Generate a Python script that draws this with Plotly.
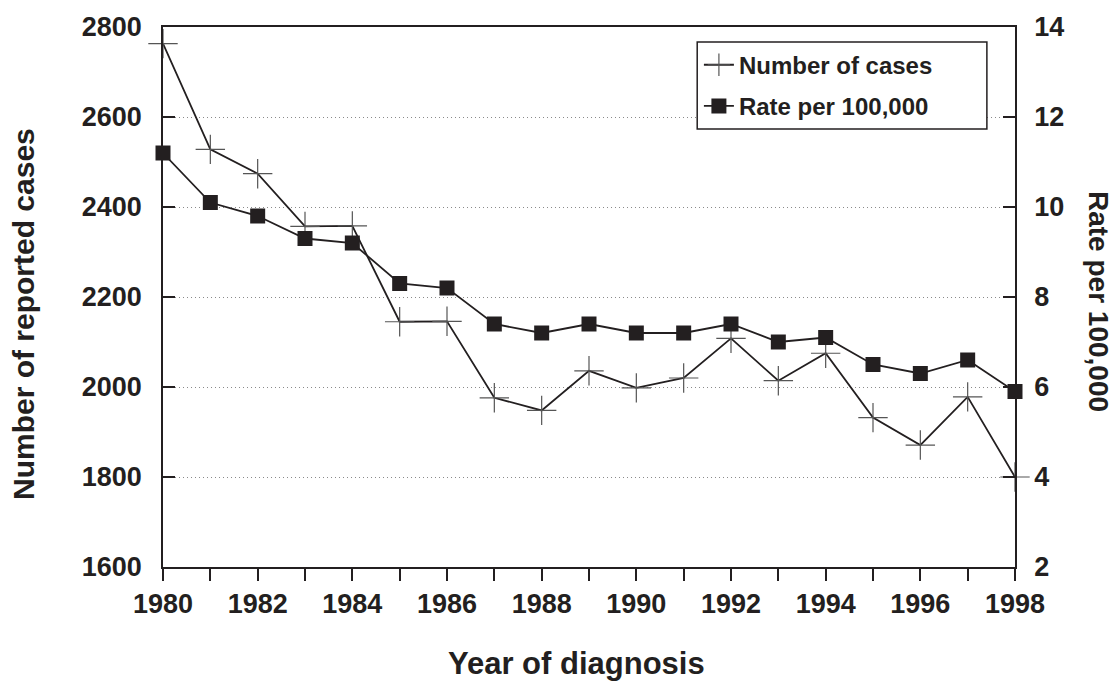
import plotly.graph_objects as go

# ── Data ──────────────────────────────────────────────────────────────────────
YEARS = list(range(1980, 1999))
CASES = [2763, 2528, 2474, 2357, 2358, 2145, 2146, 1976, 1948, 2036,
         1998, 2020, 2108, 2014, 2075, 1932, 1871, 1978, 1800]
RATE = [11.2, 10.1, 9.8, 9.3, 9.2, 8.3, 8.2, 7.4, 7.2, 7.4,
        7.2, 7.2, 7.4, 7.0, 7.1, 6.5, 6.3, 6.6, 5.9]
X_TICK_TEXT = [str(y) if y % 2 == 0 else "" for y in YEARS]
Y_TICKS = [1600, 1800, 2000, 2200, 2400, 2600, 2800]
Y2_TICKS = [2, 4, 6, 8, 10, 12, 14]

# ── Style ─────────────────────────────────────────────────────────────────────
INK = "#231f20"
GRID = "#8a8a8a"
FONT = "Liberation Sans, Arial, sans-serif"
TICKFONT = dict(family=FONT, size=27, color=INK, weight="bold")

fig = go.Figure()

fig.add_trace(go.Scatter(
    x=YEARS, y=CASES, name="Number of cases", legendgroup="a",
    mode="lines+markers",
    line=dict(color=INK, width=1.8),
    marker=dict(symbol="cross-thin", size=21, color="#555555",
                line=dict(color="#555555", width=1.2)),
    cliponaxis=False,
))

fig.add_trace(go.Scatter(
    x=YEARS, y=RATE, name="Rate per 100,000", yaxis="y2", legendgroup="b",
    mode="lines+markers",
    line=dict(color=INK, width=1.8),
    marker=dict(symbol="square", size=15, color=INK),
    cliponaxis=False,
))

fig.update_layout(
    width=1117, height=681,
    paper_bgcolor="white", plot_bgcolor="white",
    margin=dict(l=163, r=102, t=19, b=114),
    font=dict(family=FONT, color=INK, size=22),
    showlegend=True,
    legend=dict(
        x=0.629, y=0.971, xanchor="left", yanchor="top",
        bgcolor="rgba(0,0,0,0)", borderwidth=0,
        font=dict(family=FONT, size=24, color=INK, weight="bold"),
        itemwidth=30, tracegroupgap=7, traceorder="grouped",
    ),
    # legend frame, wider than the entries as in the original
    shapes=[dict(type="rect", xref="paper", yref="paper",
                 x0=0.627, x1=0.967, y0=0.811, y1=0.972,
                 line=dict(color=INK, width=1.5), fillcolor="white",
                 layer="above")],
    xaxis=dict(
        range=[1980, 1998],
        tickvals=YEARS, ticktext=X_TICK_TEXT,
        ticks="outside", ticklen=12, tickwidth=1.5, tickcolor=INK,
        tickfont=TICKFONT,
        showline=True, linecolor=INK, linewidth=1.5, mirror=True,
        showgrid=False, zeroline=False,
    ),
    yaxis=dict(
        range=[1600, 2800], tickvals=Y_TICKS,
        ticks="inside", ticklen=12, tickwidth=1.5, tickcolor=INK,
        tickfont=TICKFONT, ticklabelstandoff=14,
        showline=True, linecolor=INK, linewidth=1.5,
        showgrid=True, gridcolor=GRID, griddash="1px,3px", gridwidth=1.2,
        zeroline=False,
    ),
    yaxis2=dict(
        range=[2, 14], tickvals=Y2_TICKS, overlaying="y", side="right",
        ticks="inside", ticklen=12, tickwidth=1.5, tickcolor=INK,
        tickfont=TICKFONT, ticklabelstandoff=12,
        showline=True, linecolor=INK, linewidth=1.5,
        showgrid=False, zeroline=False,
    ),
    annotations=[
        dict(text="Number of reported cases", textangle=-90,
             xref="paper", yref="paper", x=0, y=0.5,
             xanchor="center", yanchor="middle", xshift=-140, yshift=-17,
             showarrow=False,
             font=dict(family=FONT, size=30, color=INK, weight="bold")),
        dict(text="Rate per 100,000", textangle=90,
             xref="paper", yref="paper", x=1.0, y=0.5,
             xanchor="center", yanchor="middle", xshift=84, yshift=-4,
             showarrow=False,
             font=dict(family=FONT, size=28, color=INK, weight="bold")),
        dict(text="Year of diagnosis",
             xref="paper", yref="paper", x=0.5, y=0,
             xanchor="center", yanchor="middle", xshift=-13, yshift=-96,
             showarrow=False,
             font=dict(family=FONT, size=31, color=INK, weight="bold")),
    ],
)

# drop the default page margin so the figure fills the window exactly
fig.write_html(
    "out.html",
    config={"displayModeBar": False},
    post_script="document.body.style.margin='0';"
                "document.body.style.overflow='hidden';",
)
